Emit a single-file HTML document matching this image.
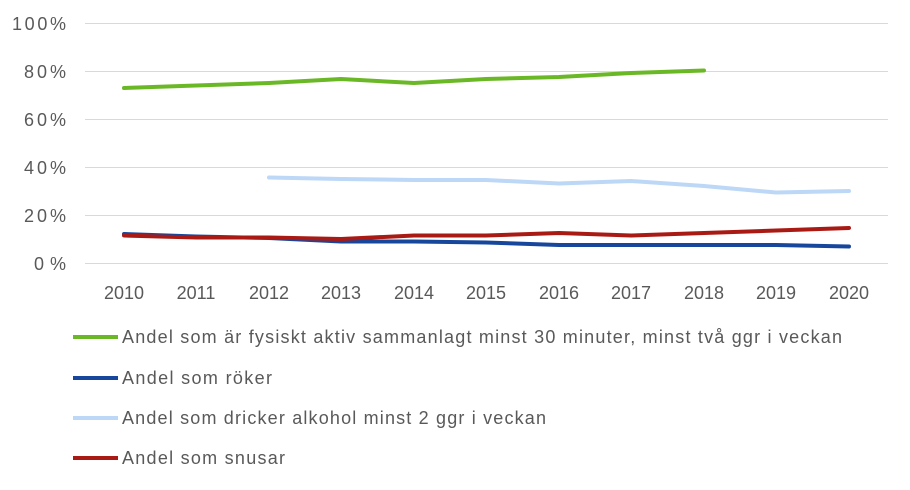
<!DOCTYPE html>
<html><head><meta charset="utf-8"><style>body{margin:0;background:#fff}</style></head><body>
<svg width="910" height="485" xmlns="http://www.w3.org/2000/svg" font-family="Liberation Sans, sans-serif" font-size="18" fill="#595959">
<g stroke="#d9d9d9" stroke-width="1">
<line x1="85" x2="888" y1="23.5" y2="23.5"/><line x1="85" x2="888" y1="71.5" y2="71.5"/><line x1="85" x2="888" y1="119.5" y2="119.5"/><line x1="85" x2="888" y1="167.5" y2="167.5"/><line x1="85" x2="888" y1="215.5" y2="215.5"/><line x1="85" x2="888" y1="263.5" y2="263.5"/>
</g>
<g text-anchor="end">
<text x="66" y="30" textLength="54">100%</text><text x="66" y="78" textLength="42">80%</text><text x="66" y="126" textLength="42">60%</text><text x="66" y="174" textLength="42">40%</text><text x="66" y="222" textLength="42">20%</text><text x="66" y="270" textLength="32">0%</text>
</g>
<g text-anchor="middle">
<text x="124" y="299">2010</text><text x="196" y="299">2011</text><text x="269" y="299">2012</text><text x="341" y="299">2013</text><text x="414" y="299">2014</text><text x="486" y="299">2015</text><text x="559" y="299">2016</text><text x="631" y="299">2017</text><text x="704" y="299">2018</text><text x="776" y="299">2019</text><text x="849" y="299">2020</text>
</g>
<g fill="none" stroke-width="4" stroke-linejoin="round" stroke-linecap="round">
<polyline stroke="#6bb827" points="124,88 196,85.5 269,83 341,79 414,83 486,79 559,77 631,73 704,70.5"/>
<polyline stroke="#bdd7f7" points="269,177.5 341,179 414,180 486,180 559,183.5 631,181 704,186 776,192.5 849,191"/>
<polyline stroke="#17479c" points="124,234 196,236.5 269,238 341,241.5 414,241.5 486,242.5 559,245 631,245 704,245 776,245 849,246.5"/>
<polyline stroke="#aa1a14" points="124,235.5 196,237.5 269,237.5 341,239 414,235.5 486,235.5 559,233 631,235.5 704,233 776,230.5 849,228"/>
</g>
<g stroke-width="4">
<line x1="73" x2="118" y1="337" y2="337" stroke="#6bb827"/>
<line x1="73" x2="118" y1="378" y2="378" stroke="#17479c"/>
<line x1="73" x2="118" y1="418" y2="418" stroke="#bdd7f7"/>
<line x1="73" x2="118" y1="458" y2="458" stroke="#aa1a14"/>
</g>
<text x="122" y="343" textLength="720">Andel som är fysiskt aktiv sammanlagt minst 30 minuter, minst två ggr i veckan</text>
<text x="122" y="384" textLength="150">Andel som röker</text>
<text x="122" y="424" textLength="424">Andel som dricker alkohol minst 2 ggr i veckan</text>
<text x="122" y="464" textLength="163">Andel som snusar</text>
</svg>
</body></html>
